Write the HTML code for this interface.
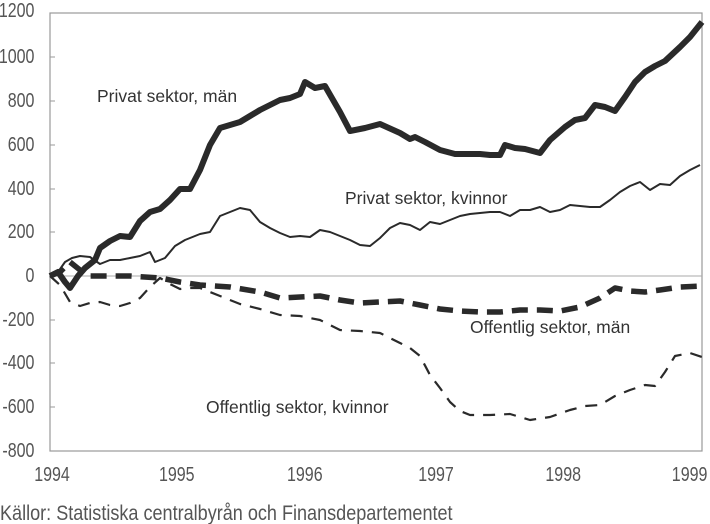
<!DOCTYPE html>
<html><head><meta charset="utf-8"><style>
html,body{margin:0;padding:0;background:#fff;width:710px;height:524px;overflow:hidden}
svg{display:block}
.t{font-family:"Liberation Sans",sans-serif;font-size:17.5px;fill:#333}
.a{font-family:"Liberation Sans",sans-serif;font-size:20px;fill:#555}
</style></head><body>
<svg width="710" height="524" viewBox="0 0 710 524">
<rect x="50" y="13" width="652" height="438" fill="none" stroke="#999" stroke-width="1.2"/>
<line x1="50" y1="276" x2="702" y2="276" stroke="#aaa" stroke-width="1"/>
<g stroke="#999" stroke-width="1">
<line x1="50" y1="57" x2="55" y2="57"/><line x1="50" y1="101" x2="55" y2="101"/><line x1="50" y1="145" x2="55" y2="145"/><line x1="50" y1="189" x2="55" y2="189"/><line x1="50" y1="232" x2="55" y2="232"/><line x1="50" y1="320" x2="55" y2="320"/><line x1="50" y1="363" x2="55" y2="363"/><line x1="50" y1="407" x2="55" y2="407"/>
</g>
<g class="a" text-anchor="end" transform="scale(0.8,1)">
<text x="43" y="17">1200</text><text x="43" y="63">1000</text><text x="43" y="107">800</text><text x="43" y="151">600</text><text x="43" y="195">400</text><text x="43" y="238">200</text><text x="43" y="282">0</text><text x="43" y="326">-200</text><text x="43" y="369">-400</text><text x="43" y="413">-600</text><text x="43" y="457">-800</text>
</g>
<g class="a" text-anchor="middle" transform="scale(0.8,1)">
<text x="65" y="481">1994</text><text x="221" y="481">1995</text><text x="381" y="481">1996</text><text x="545" y="481">1997</text><text x="704" y="481">1998</text><text x="862" y="481">1999</text>
</g>
<text class="a" x="0" y="520" transform="scale(0.86,1)" style="font-size:21px">Källor: Statistiska centralbyrån och Finansdepartementet</text>
<g fill="none" stroke="#2a2a2a" stroke-linejoin="round">
<polyline stroke-width="6" points="50,276 58,272 65,282 70,288 78,276 85,268 95,260 100,248 110,241 120,236 130,237 140,221 150,212 160,209 170,200 180,189 190,189 200,170 210,145 220,128 230,125 240,122 250,116 260,110 270,105 280,100 290,98 300,94 305,82 315,88 325,86 340,112 350,131 365,128 380,124 400,133 410,139 415,137 425,142 440,150 455,154 470,154 480,154 490,155 500,155 505,145 515,148 525,149 540,153 550,140 565,127 575,120 585,118 595,105 605,107 615,111 625,97 635,82 645,72 655,66 665,61 680,47 690,37 702,22"/>
<polyline stroke-width="2" points="50,276 58,272 65,262 72,258 80,256 90,257 100,264 110,260 120,260 130,258 140,256 150,252 155,262 165,258 175,246 185,240 190,238 200,234 210,232 220,216 230,212 240,208 250,210 260,222 270,228 280,233 290,237 300,236 310,237 320,230 330,232 340,236 350,240 360,245 370,246 380,238 390,228 400,223 410,225 420,230 430,222 440,224 450,220 460,216 470,214 480,213 490,212 500,212 510,216 520,210 530,210 540,207 550,212 560,210 570,205 580,206 590,207 600,207 610,200 620,192 630,186 640,182 650,190 660,184 670,185 680,176 690,170 700,165"/>
<polyline stroke-width="5.5" stroke-dasharray="16,9" points="50,276 60,272 70,262 80,270 90,276 100,276 130,276 160,278 180,282 200,285 230,287 260,292 280,298 300,297 320,296 340,300 360,303 380,302 400,301 420,305 440,309 460,311 480,312 500,312 520,310 540,310 560,311 580,307 600,298 615,288 630,291 645,292 660,290 680,287 702,286"/>
<polyline stroke-width="2.2" stroke-dasharray="12,9" points="50,276 60,285 70,302 80,306 90,303 100,302 110,305 120,306 130,303 140,298 150,287 160,278 170,284 180,289 190,288 200,288 220,296 240,304 260,309 280,315 300,316 320,320 340,330 360,331 380,333 400,343 410,348 420,356 430,375 440,388 450,402 460,411 470,415 490,415 510,414 530,420 550,417 570,410 585,406 600,405 615,396 630,390 645,385 655,386 665,372 675,356 690,353 702,357"/>
</g>
<text class="t" x="97" y="102">Privat sektor, män</text>
<text class="t" x="345" y="204">Privat sektor, kvinnor</text>
<text class="t" x="470" y="333">Offentlig sektor, män</text>
<text class="t" x="206" y="413">Offentlig sektor, kvinnor</text>
</svg>
</body></html>
